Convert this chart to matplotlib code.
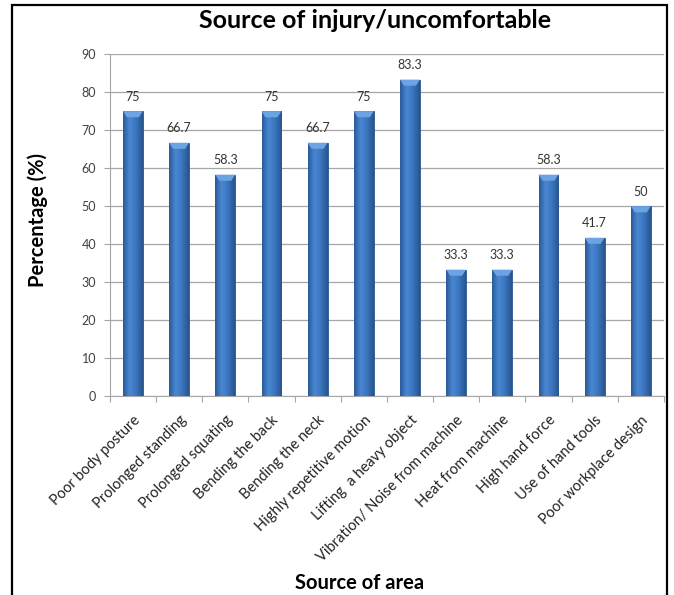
import matplotlib
matplotlib.use("Agg")
import matplotlib.pyplot as plt
import numpy as np
from matplotlib.patches import Rectangle
from matplotlib.colors import LinearSegmentedColormap

plt.rcParams["font.family"] = ["Lato", "DejaVu Sans"]

categories = ["Poor body posture", "Prolonged standing", "Prolonged squating",
              "Bending the back", "Bending the neck", "Highly repetitive motion",
              "Lifting  a heavy object", "Vibration/ Noise from machine",
              "Heat from machine", "High hand force", "Use of hand tools",
              "Poor workplace design"]
values = [75, 66.7, 58.3, 75, 66.7, 75, 83.3, 33.3, 33.3, 58.3, 41.7, 50]
labels = ["75", "66.7", "58.3", "75", "66.7", "75", "83.3", "33.3", "33.3", "58.3", "41.7", "50"]

EDGE = "#24558f"; GRID = "#a6a6a6"; TICKC = "#404040"
shade = LinearSegmentedColormap.from_list("bar", ["#2a5a98", "#4a88d4", "#3a74bd", "#28558e"])

fig = plt.figure(figsize=(6.74, 5.95), dpi=100)
ax = fig.add_axes([0.163, 0.334, 0.822, 0.575])

x = np.arange(len(categories))
bars = ax.bar(x, values, width=0.43, color="#3a76c0", edgecolor=EDGE, linewidth=0.6, zorder=3)
grad = np.linspace(0, 1, 64).reshape(1, -1)
for b, lab in zip(bars, labels):
    x0, w, h = b.get_x(), b.get_width(), b.get_height()
    im = ax.imshow(grad, cmap=shade, aspect="auto", extent=[x0, x0 + w, 0, h], zorder=3.5)
    im.set_clip_path(b)
    # light bevel at the top of each bar
    ax.fill([x0, x0 + w, x0 + w * 0.8, x0 + w * 0.2], [h, h, h - 1.6, h - 1.6],
            color="#6ea3e3", zorder=4, lw=0)
    ax.text(x0 + w / 2, h + 2.2, lab, ha="center", va="bottom", fontsize=9, color="#333333")

ax.set_xlim(-0.5, len(categories) - 0.5)
ax.set_ylim(0, 90)
ax.set_yticks(range(0, 91, 10))
ax.yaxis.grid(True, color=GRID, linewidth=0.9, zorder=0)
ax.set_xticks([i - 0.5 for i in range(len(categories) + 1)])
ax.set_xticklabels([])
ax.set_xticks(list(x), minor=True)
ax.set_xticklabels(categories, minor=True, rotation=45, ha="right",
                   rotation_mode="anchor", fontsize=10.5, color="#222222")
ax.tick_params(axis="x", which="minor", length=0, pad=12)
ax.tick_params(axis="x", which="major", length=4, color=GRID)
ax.tick_params(axis="y", length=4, color=GRID, labelsize=9, labelcolor=TICKC, pad=6)
for s in ["top", "right"]:
    ax.spines[s].set_visible(False)
ax.spines["left"].set_color(GRID)
ax.spines["bottom"].set_color(GRID)

fig.text(0.556, 0.966, "Source of injury/uncomfortable", ha="center", va="center",
         fontsize=18, fontweight="bold")
fig.text(0.056, 0.63, "Percentage (%)", ha="center", va="center", rotation=90,
         fontsize=14.5, fontweight="bold")
fig.text(0.533, 0.02, "Source of area", ha="center", va="center",
         fontsize=14.5, fontweight="bold")

fig.patches.append(Rectangle((12 / 674, -0.05), 655 / 674, 1 - 5 / 595 + 0.05,
                             transform=fig.transFigure, fill=False,
                             edgecolor="black", linewidth=1.6))

fig.savefig("out.png", dpi=100)
